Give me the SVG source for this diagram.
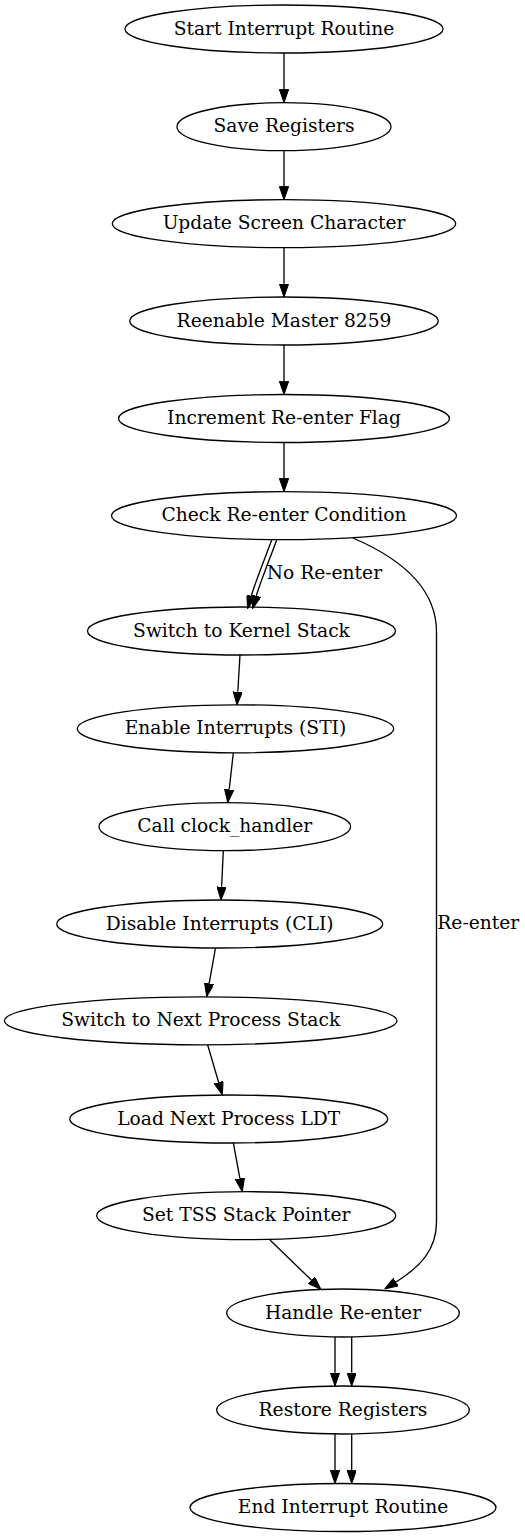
<svg xmlns="http://www.w3.org/2000/svg" width="525" height="1537" viewBox="0 0 525 1537">
<style>
.n ellipse{fill:none;stroke:#000;stroke-width:1.33}
text{font-family:"DejaVu Serif","Liberation Serif",serif;font-size:18.67px;fill:#000}
.n text{text-anchor:middle}
#edges path{fill:none;stroke:#000;stroke-width:1.33;marker-end:url(#ah)}
</style>
<defs>
<marker id="ah" viewBox="0 0 13.3 9.34" refX="0" refY="4.67" markerWidth="13.3" markerHeight="9.34" markerUnits="userSpaceOnUse" orient="auto">
<path d="M0,0 L13.3,4.67 L0,9.34 Z" fill="#000" stroke="#000" stroke-width="1"/>
</marker>
</defs>
<rect width="525" height="1537" fill="#fff"/>
<g id="edges">
<path d="M284,53 L284,89.4"/>
<path d="M284,150.7 L284,186.4"/>
<path d="M284,247.7 L284,283.7"/>
<path d="M284,345 L284,381.2"/>
<path d="M284,442.5 L284,478.4"/>
<path d="M271.7,540 C267,553 255,583 251.3,595.8"/>
<path d="M276.7,540 C272,553 260,583 256.3,595.8"/>
<path d="M353,538 C395,556 436.5,585 436.5,632 L436.5,1222 C436.5,1250 420,1267 396,1282"/>
<path d="M240,654.7 L237.8,691.7"/>
<path d="M233.3,753 L229.2,789.5"/>
<path d="M223.3,850.7 L221.6,886.7"/>
<path d="M215.5,948 L209.1,983.6"/>
<path d="M207.7,1045 L218.6,1082.2"/>
<path d="M233.3,1142.7 L239.9,1178.6"/>
<path d="M270,1240 L311.4,1280.1"/>
<path d="M335,1337 L335,1372.7"/>
<path d="M351.7,1337 L351.7,1372.7"/>
<path d="M335,1434 L335,1470.2"/>
<path d="M351.7,1434 L351.7,1470.2"/>
<text x="266.7" y="579">No Re-enter</text>
<text x="437.3" y="928.5">Re-enter</text>
</g>
<g id="start" class="n"><ellipse cx="284" cy="29" rx="159" ry="24"/><text x="284" y="34.5">Start Interrupt Routine</text></g>
<g id="save" class="n"><ellipse cx="284" cy="126.7" rx="107" ry="24"/><text x="284" y="132.2">Save Registers</text></g>
<g id="update" class="n"><ellipse cx="284" cy="223.7" rx="171.7" ry="24"/><text x="284" y="229.2">Update Screen Character</text></g>
<g id="reenable" class="n"><ellipse cx="284" cy="321" rx="154.3" ry="24"/><text x="284" y="326.5">Reenable Master 8259</text></g>
<g id="increment" class="n"><ellipse cx="284" cy="418.5" rx="165.5" ry="24"/><text x="284" y="424">Increment Re-enter Flag</text></g>
<g id="check" class="n"><ellipse cx="284" cy="515.7" rx="172.5" ry="24"/><text x="284" y="521.2">Check Re-enter Condition</text></g>
<g id="kernel" class="n"><ellipse cx="241.5" cy="631" rx="154" ry="24"/><text x="241.5" y="636.5">Switch to Kernel Stack</text></g>
<g id="sti" class="n"><ellipse cx="235.5" cy="728.8" rx="158.2" ry="24"/><text x="235.5" y="734.3">Enable Interrupts (STI)</text></g>
<g id="clock" class="n"><ellipse cx="224.8" cy="826.7" rx="125.8" ry="24"/><text x="224.8" y="832.2">Call clock_handler</text></g>
<g id="cli" class="n"><ellipse cx="219.7" cy="924" rx="163" ry="24"/><text x="219.7" y="929.5">Disable Interrupts (CLI)</text></g>
<g id="nextstack" class="n"><ellipse cx="200.7" cy="1020.8" rx="196.3" ry="24"/><text x="200.7" y="1026.3">Switch to Next Process Stack</text></g>
<g id="ldt" class="n"><ellipse cx="228.7" cy="1119" rx="159" ry="24"/><text x="228.7" y="1124.5">Load Next Process LDT</text></g>
<g id="tss" class="n"><ellipse cx="246.2" cy="1215.7" rx="149.5" ry="24"/><text x="246.2" y="1221.2">Set TSS Stack Pointer</text></g>
<g id="handle" class="n"><ellipse cx="343" cy="1313" rx="116.3" ry="24"/><text x="343" y="1318.5">Handle Re-enter</text></g>
<g id="restore" class="n"><ellipse cx="343" cy="1410" rx="126.3" ry="24"/><text x="343" y="1415.5">Restore Registers</text></g>
<g id="end" class="n"><ellipse cx="343" cy="1507.5" rx="153" ry="24"/><text x="343" y="1513">End Interrupt Routine</text></g>
</svg>
